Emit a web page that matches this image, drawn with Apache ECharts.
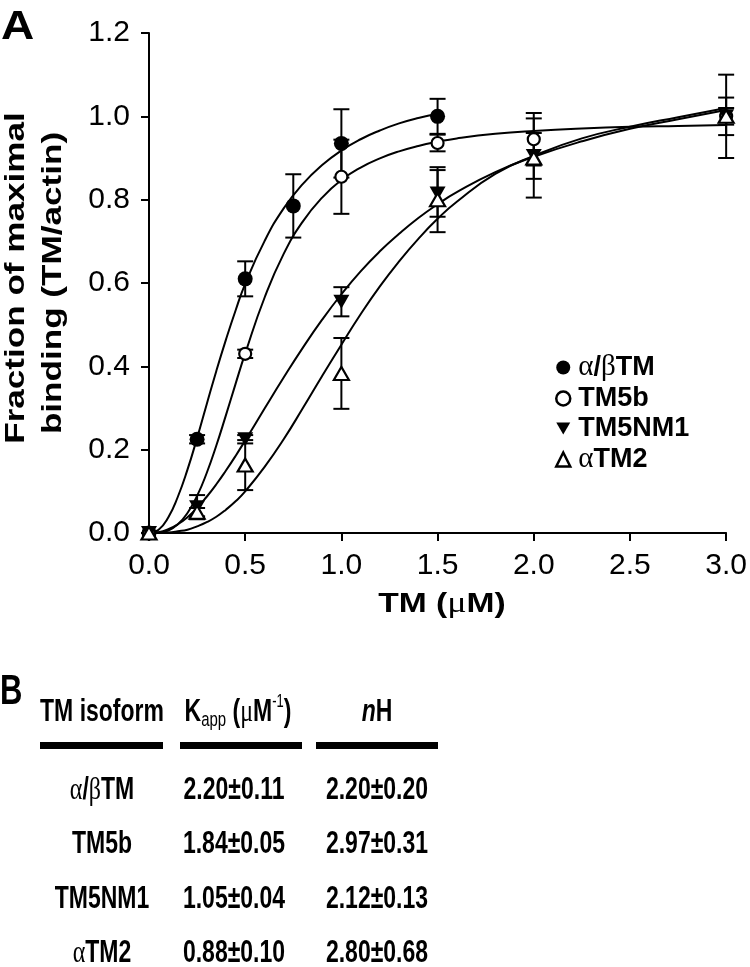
<!DOCTYPE html>
<html>
<head>
<meta charset="utf-8">
<title>TM binding</title>
<script src="https://cdn.jsdelivr.net/npm/echarts@6/dist/echarts.min.js"></script>
<style>
  html, body { margin: 0; padding: 0; background: #fff; }
  #chart { width: 750px; height: 967px; }
</style>
</head>
<body>
<div id="chart"></div>
<script>
// measured points (x = TM uM, y = fraction, e = error)
var abX = [0, 0.25, 0.5, 0.75, 1.0, 1.5];
var abY = [0, 0.225, 0.61, 0.785, 0.935, 1.0];
var abE = [0, 0.01, 0.042, 0.076, 0.082, 0.042];

var t5bX = [0, 0.5, 1.0, 1.5, 2.0, 3.0];
var t5bY = [0, 0.43, 0.855, 0.936, 0.945, 1.0];
var t5bE = [0, 0.01, 0.089, 0.02, 0.063, 0.02];

var nm1X = [0, 0.25, 0.5, 1.0, 1.5, 2.0, 3.0];
var nm1Y = [0, 0.062, 0.225, 0.555, 0.815, 0.905, 1.0];
var nm1E = [0, 0.029, 0.01, 0.035, 0.056, 0.055, 0.045];

var a2X = [0, 0.25, 0.5, 1.0, 1.5, 2.0, 3.0];
var a2Y = [0, 0.05, 0.163, 0.383, 0.80, 0.90, 1.0];
var a2E = [0, 0.01, 0.06, 0.085, 0.078, 0.095, 0.1];

// fitted curves
var fitX = [0, 0.05, 0.1, 0.15, 0.2, 0.25, 0.3, 0.35, 0.4, 0.45, 0.5, 0.6, 0.7, 0.8, 0.9, 1.0,
            1.1, 1.2, 1.3, 1.4, 1.5, 1.6, 1.8, 2.0, 2.25, 2.5, 2.75, 3.0];
var abFit  = [0, 0.008, 0.037, 0.087, 0.152, 0.228, 0.309, 0.389, 0.464, 0.534, 0.598, 0.70, 0.779, 0.838, 0.883, 0.918,
              0.945, 0.966, 0.983, 0.996, 1.006];
var t5bFit = [0, 0.001, 0.006, 0.021, 0.048, 0.089, 0.144, 0.210, 0.283, 0.358, 0.431, 0.564, 0.670, 0.748, 0.805, 0.847,
              0.877, 0.899, 0.916, 0.929, 0.939, 0.947, 0.958, 0.965, 0.971, 0.975, 0.977, 0.979];
var nm1Fit = [0, 0.002, 0.009, 0.021, 0.038, 0.060, 0.087, 0.117, 0.150, 0.185, 0.222, 0.298, 0.373, 0.445, 0.512, 0.573,
              0.628, 0.676, 0.718, 0.756, 0.789, 0.818, 0.866, 0.903, 0.940, 0.970, 0.993, 1.015];
var a2Fit  = [0, 0.000, 0.001, 0.004, 0.008, 0.016, 0.026, 0.039, 0.056, 0.076, 0.100, 0.158, 0.225, 0.300, 0.377, 0.452,
              0.525, 0.592, 0.652, 0.706, 0.754, 0.795, 0.862, 0.905, 0.947, 0.975, 0.998, 1.02];

// table B
var tableHead = ['{b|TM isoform}', '{b|K}{sub|app}{b| (}{g|μ}{b|M}{sup|-1}{b|)}', '{i|n}{b|H}'];
var isoforms = ['{g|α}/{g|β}{b|TM}', '{b|TM5b}', '{b|TM5NM1}', '{g|α}{b|TM2}'];
var kapp = ['2.20±0.11', '1.84±0.05', '1.05±0.04', '0.88±0.10'];
var hill = ['2.20±0.20', '2.97±0.31', '2.12±0.13', '2.80±0.68'];

var SANS = 'Liberation Sans, Arial, sans-serif';
var SERIF = 'Liberation Serif, Times New Roman, serif';

function pairs(xs, ys) {
    var out = [];
    for (var i = 0; i < ys.length; i++) out.push([xs[i], ys[i]]);
    return out;
}
function errData(xs, ys, es) {
    var out = [];
    for (var i = 0; i < xs.length; i++) {
        if (es[i] > 0) out.push([xs[i], ys[i] - es[i], ys[i] + es[i]]);
    }
    return out;
}

function errorRender(params, api) {
    var x = api.value(0);
    var top = api.coord([x, api.value(2)]);
    var bot = api.coord([x, api.value(1)]);
    var w = 8;
    var st = { stroke: '#000', lineWidth: 2 };
    return {
        type: 'group',
        children: [
            { type: 'line', shape: { x1: top[0], y1: top[1], x2: bot[0], y2: bot[1] }, style: st },
            { type: 'line', shape: { x1: top[0] - w, y1: top[1], x2: top[0] + w, y2: top[1] }, style: st },
            { type: 'line', shape: { x1: bot[0] - w, y1: bot[1], x2: bot[0] + w, y2: bot[1] }, style: st }
        ]
    };
}

function fitLine(name, ys) {
    return {
        name: name, type: 'line', data: pairs(fitX, ys), showSymbol: false, smooth: true,
        lineStyle: { color: '#000', width: 2 }, z: 2, silent: true
    };
}
function errSeries(name, d) {
    return { name: name, type: 'custom', renderItem: errorRender, data: d, z: 3, silent: true };
}

var triDown = 'path://M0,0 L20,0 L10,17 Z';
var styleFilled = { color: '#000', opacity: 1 };
var styleOpen = { color: '#fff', borderColor: '#000', borderWidth: 2.2, opacity: 1 };

function cellText(x, y, str) {
    return {
        type: 'text', x: x, y: y, scaleY: 1.35,
        style: {
            text: str, x: 0, y: 0, align: 'center', verticalAlign: 'middle',
            textAlign: 'center', textVerticalAlign: 'middle',
            fontSize: 23, fontWeight: 'bold', fontFamily: SANS, fill: '#000',
            rich: {
                b: { fontSize: 23, fontWeight: 'bold', fontFamily: SANS },
                i: { fontSize: 23, fontWeight: 'bold', fontStyle: 'italic', fontFamily: SANS },
                g: { fontSize: 24, fontFamily: SERIF },
                sub: { fontSize: 15, fontWeight: 'normal', fontFamily: SANS, verticalAlign: 'bottom', padding: [12, 0, 0, 0] },
                sup: { fontSize: 13, fontWeight: 'normal', fontFamily: SANS, verticalAlign: 'top', padding: [0, 0, 12, 0] }
            }
        }
    };
}

var graphics = [
    { type: 'text', x: 1, y: 8, scaleX: 1.15,
      style: { text: 'A', x: 0, y: 0, verticalAlign: 'top', textVerticalAlign: 'top',
               fontSize: 40, fontWeight: 'bold', fontFamily: SANS, fill: '#000' } },
    { type: 'text', x: 0, y: 672, scaleY: 1.35,
      style: { text: 'B', x: 0, y: 0, verticalAlign: 'top', textVerticalAlign: 'top',
               fontSize: 31, fontWeight: 'bold', fontFamily: SANS, fill: '#000' } },
    {
        type: 'text', x: 17, y: 278, rotation: Math.PI / 2, scaleX: 1.3,
        style: { text: 'Fraction of maximal', align: 'center', verticalAlign: 'middle', textAlign: 'center', textVerticalAlign: 'middle',
                 fontSize: 27, fontWeight: 'bold', fontFamily: SANS, fill: '#000' }
    },
    {
        type: 'text', x: 54, y: 283, rotation: Math.PI / 2, scaleX: 1.3,
        style: { text: 'binding (TM/actin)', align: 'center', verticalAlign: 'middle', textAlign: 'center', textVerticalAlign: 'middle',
                 fontSize: 27, fontWeight: 'bold', fontFamily: SANS, fill: '#000' }
    },
    {
        type: 'text', x: 442, y: 604, scaleX: 1.2,
        style: { text: '{b|TM (}{g|μ}{b|M)}', align: 'center', verticalAlign: 'middle', textAlign: 'center', textVerticalAlign: 'middle',
                 fill: '#000',
                 rich: { b: { fontSize: 28, fontWeight: 'bold', fontFamily: SANS }, g: { fontSize: 30, fontFamily: SERIF } } }
    },
    // table underlines
    { type: 'rect', shape: { x: 40, y: 742, width: 123, height: 7 }, style: { fill: '#000' } },
    { type: 'rect', shape: { x: 180, y: 742, width: 122, height: 7 }, style: { fill: '#000' } },
    { type: 'rect', shape: { x: 316, y: 742, width: 122, height: 7 }, style: { fill: '#000' } }
];

var colX = [102, 238, 377];
var rowY = [790, 844, 899, 953];
for (var c = 0; c < tableHead.length; c++) {
    graphics.push(cellText(colX[c], 712, tableHead[c]));
}
for (var r = 0; r < isoforms.length; r++) {
    graphics.push(cellText(colX[0], rowY[r], isoforms[r]));
    graphics.push(cellText(234, rowY[r], kapp[r]));
    graphics.push(cellText(colX[2], rowY[r], hill[r]));
}

var chart = echarts.init(document.getElementById('chart'), null, { renderer: 'canvas' });

var option = {
    backgroundColor: '#fff',
    animation: false,
    grid: { left: 149, right: 23, top: 33, bottom: 434 },
    xAxis: {
        type: 'value', min: 0, max: 3, interval: 0.5,
        axisLine: { lineStyle: { color: '#000', width: 2 } },
        axisTick: { show: true, length: 8, lineStyle: { color: '#000', width: 2 } },
        axisLabel: { color: '#000', fontSize: 30, fontFamily: SANS, margin: 18,
                     formatter: function (v) { return v.toFixed(1); } },
        splitLine: { show: false }
    },
    yAxis: {
        type: 'value', min: 0, max: 1.2, interval: 0.2,
        axisLine: { show: true, lineStyle: { color: '#000', width: 2 } },
        axisTick: { show: true, length: 8, lineStyle: { color: '#000', width: 2 } },
        axisLabel: { color: '#000', fontSize: 30, fontFamily: SANS, margin: 19,
                     formatter: function (v) { return v.toFixed(1); } },
        splitLine: { show: false }
    },
    legend: {
        left: 550, top: 348, orient: 'vertical', itemGap: 3, itemWidth: 14, itemHeight: 14,
        textStyle: {
            fontSize: 27, fontWeight: 'bold', fontFamily: SANS, color: '#000', lineHeight: 27,
            padding: [0, 0, 0, 3],
            rich: {
                g: { fontSize: 29, fontWeight: 'normal', fontFamily: SERIF, color: '#000' },
                b: { fontSize: 27, fontWeight: 'bold', fontFamily: SANS, color: '#000' }
            }
        },
        formatter: function (name) {
            return name.replace(/([αβ])/g, '{g|$1}');
        },
        data: [
            { name: 'α/βTM', icon: 'circle', itemStyle: styleFilled },
            { name: 'TM5b', icon: 'circle', itemStyle: { color: '#fff', borderColor: '#000', borderWidth: 2.5 } },
            { name: 'TM5NM1', icon: triDown, itemStyle: styleFilled },
            { name: 'αTM2', icon: 'triangle', itemStyle: { color: '#fff', borderColor: '#000', borderWidth: 2.5 } }
        ]
    },
    graphic: graphics,
    series: [
        fitLine('fit-ab', abFit),
        fitLine('fit-5b', t5bFit),
        fitLine('fit-nm1', nm1Fit),
        fitLine('fit-a2', a2Fit),
        errSeries('err-ab', errData(abX, abY, abE)),
        errSeries('err-5b', errData(t5bX, t5bY, t5bE)),
        errSeries('err-nm1', errData(nm1X, nm1Y, nm1E)),
        errSeries('err-a2', errData(a2X, a2Y, a2E)),
        { name: 'α/βTM', type: 'scatter', data: pairs(abX, abY), symbol: 'circle', symbolSize: 15,
          itemStyle: styleFilled, z: 5 },
        { name: 'TM5b', type: 'scatter', data: pairs(t5bX, t5bY), symbol: 'circle', symbolSize: 12,
          itemStyle: styleOpen, z: 5 },
        { name: 'TM5NM1', type: 'scatter', data: pairs(nm1X, nm1Y), symbol: triDown, symbolSize: [16, 14],
          itemStyle: styleFilled, z: 6 },
        { name: 'αTM2', type: 'scatter', data: pairs(a2X, a2Y), symbol: 'triangle', symbolSize: [15, 13],
          itemStyle: styleOpen, z: 7 }
    ]
};

chart.setOption(option);
window.onresize = chart.resize;
</script>
</body>
</html>
